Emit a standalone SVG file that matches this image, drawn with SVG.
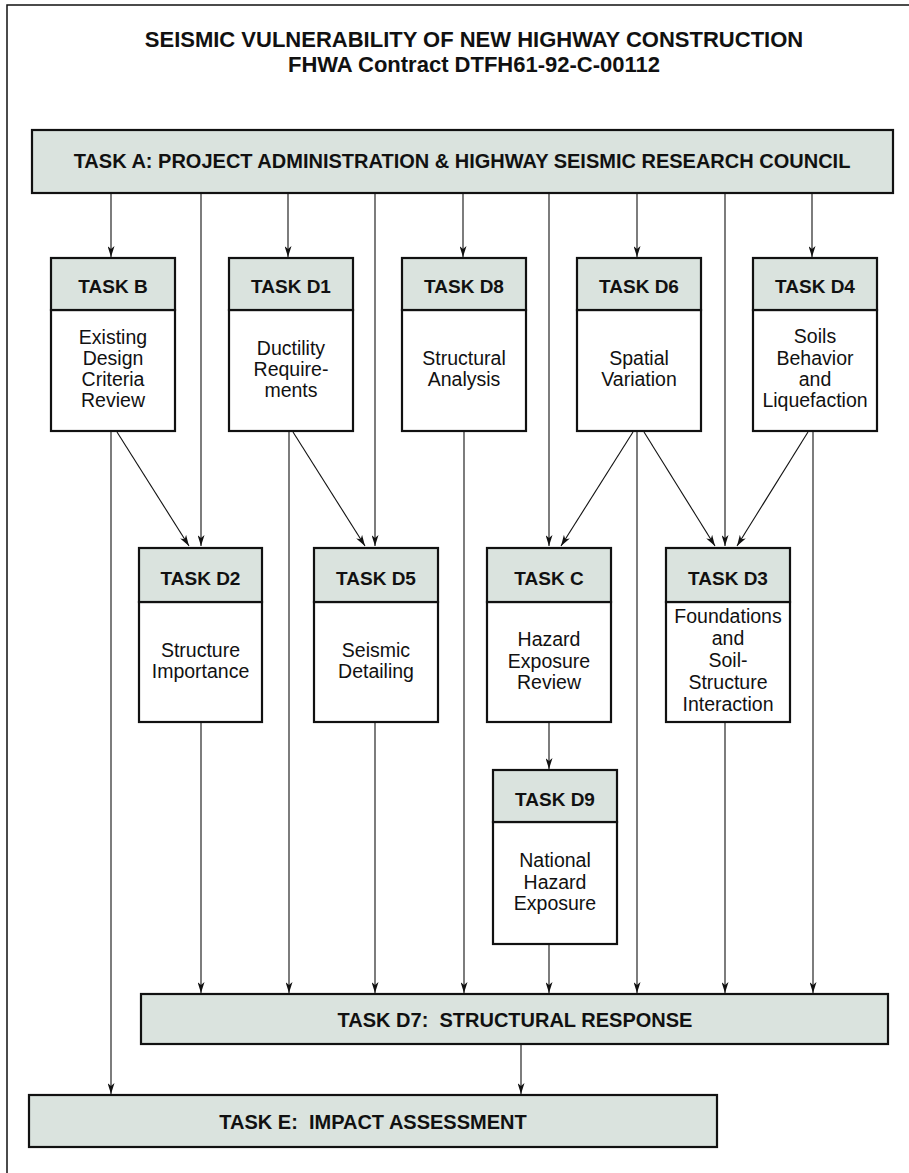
<svg xmlns="http://www.w3.org/2000/svg" width="909" height="1173" viewBox="0 0 909 1173">
<style>
.frame{fill:none;stroke:#111;stroke-width:1.5}
.hdr{fill:#dae3de;stroke:#111;stroke-width:2.2}
.body{fill:#fff;stroke:#111;stroke-width:2.2}
.big{fill:#dae3de;stroke:#111;stroke-width:2.2}
.c{fill:none;stroke:#111;stroke-width:1.1}
.t{font-family:"Liberation Sans",Arial,sans-serif;fill:#111;text-anchor:middle}
.title{font-size:22px;font-weight:bold}
.h{font-size:19px;font-weight:bold}
.hb{font-size:20px;font-weight:bold;white-space:pre}
.b{font-size:19.5px}
</style>
<defs>
<marker id="ah" viewBox="0 0 11 7" refX="11" refY="3.5" markerWidth="11" markerHeight="7" orient="auto" markerUnits="userSpaceOnUse">
<path d="M0,0 L11,3.5 L0,7 L3,3.5 z" fill="#111"/>
</marker>
</defs>
<rect width="909" height="1173" fill="#fff"/>
<path class="frame" d="M7,1173 V5 H909"/>
<g id="title">
<text class="t title" x="474" y="47">SEISMIC VULNERABILITY OF NEW HIGHWAY CONSTRUCTION</text>
<text class="t title" x="474" y="72">FHWA Contract DTFH61-92-C-00112</text>
</g>
<g id="connectors">
<line class="c" x1="111" y1="194" x2="111" y2="257" marker-end="url(#ah)"/>
<line class="c" x1="288" y1="194" x2="288" y2="257" marker-end="url(#ah)"/>
<line class="c" x1="463" y1="194" x2="463" y2="257" marker-end="url(#ah)"/>
<line class="c" x1="637" y1="194" x2="637" y2="257" marker-end="url(#ah)"/>
<line class="c" x1="812" y1="194" x2="812" y2="257" marker-end="url(#ah)"/>
<line class="c" x1="201" y1="194" x2="201" y2="546" marker-end="url(#ah)"/>
<line class="c" x1="375" y1="194" x2="375" y2="546" marker-end="url(#ah)"/>
<line class="c" x1="549" y1="194" x2="549" y2="546" marker-end="url(#ah)"/>
<line class="c" x1="725" y1="194" x2="725" y2="546" marker-end="url(#ah)"/>
<line class="c" x1="117" y1="432" x2="189" y2="546" marker-end="url(#ah)"/>
<line class="c" x1="293" y1="432" x2="365" y2="546" marker-end="url(#ah)"/>
<line class="c" x1="633" y1="432" x2="561" y2="546" marker-end="url(#ah)"/>
<line class="c" x1="644" y1="432" x2="715" y2="546" marker-end="url(#ah)"/>
<line class="c" x1="808" y1="432" x2="737" y2="546" marker-end="url(#ah)"/>
<line class="c" x1="549" y1="723" x2="549" y2="769" marker-end="url(#ah)"/>
<line class="c" x1="111" y1="432" x2="111" y2="1094" marker-end="url(#ah)"/>
<line class="c" x1="201" y1="723" x2="201" y2="993" marker-end="url(#ah)"/>
<line class="c" x1="289" y1="432" x2="289" y2="993" marker-end="url(#ah)"/>
<line class="c" x1="375" y1="723" x2="375" y2="993" marker-end="url(#ah)"/>
<line class="c" x1="464" y1="432" x2="464" y2="993" marker-end="url(#ah)"/>
<line class="c" x1="549" y1="945" x2="549" y2="993" marker-end="url(#ah)"/>
<line class="c" x1="637" y1="432" x2="637" y2="993" marker-end="url(#ah)"/>
<line class="c" x1="725" y1="723" x2="725" y2="993" marker-end="url(#ah)"/>
<line class="c" x1="813" y1="432" x2="813" y2="993" marker-end="url(#ah)"/>
<line class="c" x1="521" y1="1045" x2="521" y2="1094" marker-end="url(#ah)"/>
</g>
<g id="taskA">
<rect class="big" x="32" y="130" width="861" height="63"/>
<text class="t hb" x="462" y="168">TASK A: PROJECT ADMINISTRATION &amp; HIGHWAY SEISMIC RESEARCH COUNCIL</text>
</g>
<g id="taskB">
<rect class="body" x="51" y="310" width="124" height="121"/>
<rect class="hdr" x="51" y="258" width="124" height="52"/>
<text class="t h" x="113" y="293">TASK B</text>
<text class="t b" x="113" y="344">Existing</text>
<text class="t b" x="113" y="365">Design</text>
<text class="t b" x="113" y="386">Criteria</text>
<text class="t b" x="113" y="407">Review</text>
</g>
<g id="taskD1">
<rect class="body" x="229" y="310" width="124" height="121"/>
<rect class="hdr" x="229" y="258" width="124" height="52"/>
<text class="t h" x="291" y="293">TASK D1</text>
<text class="t b" x="291" y="354.5">Ductility</text>
<text class="t b" x="291" y="376">Require-</text>
<text class="t b" x="291" y="397">ments</text>
</g>
<g id="taskD8">
<rect class="body" x="402" y="310" width="124" height="121"/>
<rect class="hdr" x="402" y="258" width="124" height="52"/>
<text class="t h" x="464" y="293">TASK D8</text>
<text class="t b" x="464" y="365">Structural</text>
<text class="t b" x="464" y="386">Analysis</text>
</g>
<g id="taskD6">
<rect class="body" x="577" y="310" width="124" height="121"/>
<rect class="hdr" x="577" y="258" width="124" height="52"/>
<text class="t h" x="639" y="293">TASK D6</text>
<text class="t b" x="639" y="365">Spatial</text>
<text class="t b" x="639" y="386">Variation</text>
</g>
<g id="taskD4">
<rect class="body" x="753" y="310" width="124" height="121"/>
<rect class="hdr" x="753" y="258" width="124" height="52"/>
<text class="t h" x="815" y="293">TASK D4</text>
<text class="t b" x="815" y="343">Soils</text>
<text class="t b" x="815" y="365">Behavior</text>
<text class="t b" x="815" y="386">and</text>
<text class="t b" x="815" y="407">Liquefaction</text>
</g>
<g id="taskD2">
<rect class="body" x="139" y="602" width="123" height="120"/>
<rect class="hdr" x="139" y="548" width="123" height="54"/>
<text class="t h" x="200.5" y="584.5">TASK D2</text>
<text class="t b" x="200.5" y="656.5">Structure</text>
<text class="t b" x="200.5" y="678">Importance</text>
</g>
<g id="taskD5">
<rect class="body" x="314" y="602" width="124" height="120"/>
<rect class="hdr" x="314" y="548" width="124" height="54"/>
<text class="t h" x="376" y="584.5">TASK D5</text>
<text class="t b" x="376" y="656.5">Seismic</text>
<text class="t b" x="376" y="678">Detailing</text>
</g>
<g id="taskC">
<rect class="body" x="487" y="602" width="124" height="120"/>
<rect class="hdr" x="487" y="548" width="124" height="54"/>
<text class="t h" x="549" y="584.5">TASK C</text>
<text class="t b" x="549" y="646">Hazard</text>
<text class="t b" x="549" y="667.5">Exposure</text>
<text class="t b" x="549" y="689">Review</text>
</g>
<g id="taskD3">
<rect class="body" x="666" y="602" width="124" height="120"/>
<rect class="hdr" x="666" y="548" width="124" height="54"/>
<text class="t h" x="728" y="584.5">TASK D3</text>
<text class="t b" x="728" y="623">Foundations</text>
<text class="t b" x="728" y="645">and</text>
<text class="t b" x="728" y="667">Soil-</text>
<text class="t b" x="728" y="689">Structure</text>
<text class="t b" x="728" y="711">Interaction</text>
</g>
<g id="taskD9">
<rect class="body" x="493" y="822" width="124" height="122"/>
<rect class="hdr" x="493" y="770" width="124" height="52"/>
<text class="t h" x="555" y="805.5">TASK D9</text>
<text class="t b" x="555" y="867">National</text>
<text class="t b" x="555" y="888.5">Hazard</text>
<text class="t b" x="555" y="910">Exposure</text>
</g>
<g id="taskD7">
<rect class="big" x="141" y="994" width="747" height="50"/>
<text class="t hb" x="515" y="1026.5">TASK D7:  STRUCTURAL RESPONSE</text>
</g>
<g id="taskE">
<rect class="big" x="29" y="1095" width="688" height="52"/>
<text class="t hb" x="373" y="1128.5">TASK E:  IMPACT ASSESSMENT</text>
</g>
</svg>
